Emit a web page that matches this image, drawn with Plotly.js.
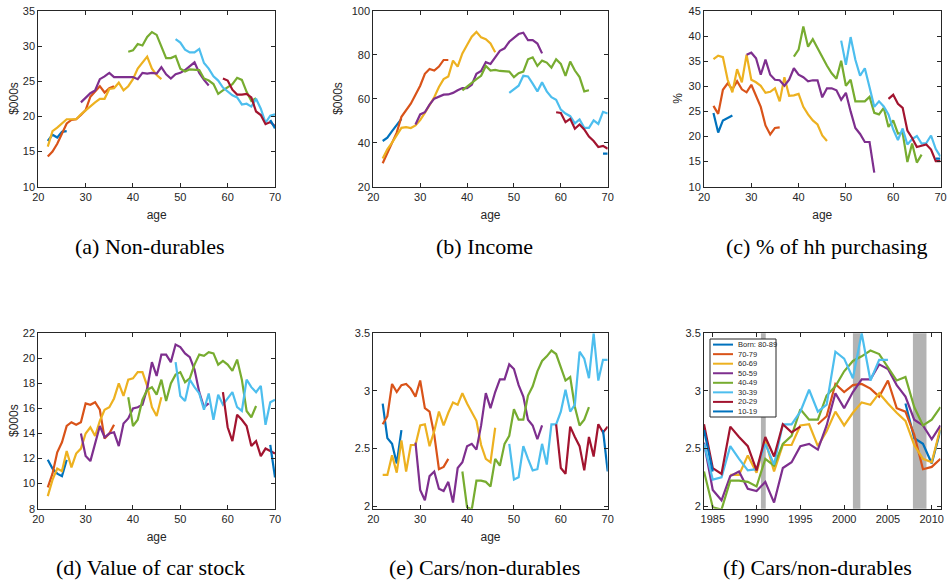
<!DOCTYPE html>
<html>
<head>
<meta charset="utf-8">
<script src="https://cdn.plot.ly/plotly-3.0.1.min.js"></script>
<style>html,body{margin:0;padding:0;background:#fff;}#chart{width:948px;height:582px;}</style>
</head>
<body>
<div id="chart"></div>
<script>
// ---- cohorts ----
const cohortLabels = ['Born: 80-89','70-79','60-69','50-59','40-49','30-39','20-29','10-19'];
const cohortColors = ['#0072BD','#D95319','#EDB120','#7E2F8E','#77AC30','#4DBEEE','#A2142F','#0072BD'];
const birthYear = [1985,1975,1965,1955,1945,1935,1925,1915];   // age = year - birthYear
const firstAge = [22,22,22,29,39,49,59,69];

// ---- (a) Non-durables, $000s, by age ----
const nonDurables = [
  [16.5,17.4,17.0,17.8,17.9],
  [14.3,15.0,16.1,17.6,19.0,19.5,19.6,20.2,20.9,22.8,23.5,24.3,23.4,24.0,24.3],
  [15.7,17.9,18.4,19.0,19.6,19.6,19.6,20.3,20.9,21.5,22.0,22.5,22.5,23.9,24.0,24.8,23.7,24.3,25.3,26.8,27.6,28.5,26.8,25.9,25.3],
  [22.0,22.7,23.3,23.7,25.3,25.7,26.2,25.6,25.6,25.5,25.6,25.6,25.3,26.2,26.1,26.2,26.1,27.0,26.0,25.4,26.0,26.2,26.6,27.2,27.7,26.2,25.2,24.4],
  [29.2,29.4,30.3,30.1,31.3,32.0,31.6,29.9,28.3,28.3,28.6,26.8,26.4,26.7,26.7,26.6,25.4,25.1,24.6,23.2,23.7,24.2,24.6,25.5,25.2,23.5,22.2,22.6],
  [31.0,30.5,29.5,29.1,29.1,29.6,27.6,26.8,25.7,25.1,24.1,23.5,23.0,22.7,21.7,21.8,21.4,22.5,21.1,19.1,20.1,20.3],
  [25.4,25.1,23.8,23.1,23.1,23.2,22.7,20.7,20.2,18.9,19.2,18.6],
  [19.5,18.3]
];
// ---- (b) Income, $000s ----
const income = [
  [40.8,42.3,45.3,47.9,50.9],
  [30.7,35.5,40.1,44.6,51.8,55.1,57.8,61.9,66.0,71.4,73.6,72.9,74.7,77.7,77.7],
  [32.8,37.0,40.1,43.4,46.8,47.1,46.7,47.9,50.3,53.6,56.9,60.7,65.4,69.0,70.2,77.4,74.7,80.7,84.5,88.3,90.5,88.0,87.2,85.2,81.2],
  [48.3,52.9,53.9,57.4,60.1,61.1,61.9,62.0,62.7,63.9,64.9,64.9,66.4,71.4,72.7,76.7,75.9,78.9,81.9,83.0,86.0,87.8,89.5,90.1,86.7,86.7,85.2,80.7],
  [63.9,65.7,67.5,69.0,70.5,75.0,72.9,73.2,72.7,72.4,72.4,69.9,71.7,72.4,78.0,78.9,75.0,77.4,76.5,74.2,78.0,75.9,70.5,77.0,72.9,69.9,63.4,63.9],
  [62.7,64.2,66.0,70.5,70.2,66.9,63.4,67.5,63.4,60.8,59.6,55.1,53.3,52.1,48.8,50.6,46.8,46.8,50.2,48.6,54.1,53.3],
  [53.9,53.6,49.4,50.9,46.4,48.3,46.1,42.8,40.8,38.1,38.6,37.3],
  [35.1,35.1]
];
// ---- (c) % of households purchasing ----
const pctPurchasing = [
  [24.7,20.8,23.2,23.7,24.2],
  [26.1,24.5,29.3,30.6,29.4,31.0,29.4,28.8,30.3,27.9,25.9,22.2,20.4,21.7,21.8],
  [35.4,36.1,35.8,31.3,28.8,33.4,30.8,36.3,31.3,30.8,30.1,28.7,28.9,29.6,27.0,31.8,28.1,28.2,28.5,25.9,24.4,23.2,22.4,20.2,19.1],
  [36.3,36.7,35.6,32.3,35.3,32.3,31.3,31.2,30.1,31.3,33.6,32.3,31.8,31.0,31.2,31.2,27.8,29.6,29.6,29.2,27.3,28.7,25.0,21.7,20.5,18.9,18.9,12.8],
  [35.9,37.3,41.9,37.9,39.4,37.6,35.8,34.1,32.6,31.5,35.1,30.1,31.3,27.0,27.0,27.0,27.9,24.7,24.4,25.7,21.9,23.2,20.6,20.7,14.9,18.6,14.8,16.4],
  [39.1,34.3,39.8,35.3,32.1,33.6,29.8,25.9,27.0,26.0,24.4,21.4,19.3,21.6,18.4,19.5,20.1,18.6,18.7,20.2,17.5,16.0],
  [27.5,28.3,26.5,25.7,21.2,19.7,17.9,18.1,18.4,17.4,15.1,15.1],
  [15.6,15.6]
];
// ---- (d) Value of car stock, $000s ----
const carStock = [
  [11.9,11.2,10.8,10.6,11.9],
  [9.7,10.8,12.5,13.3,14.6,14.9,14.7,14.9,16.4,16.3,16.5,15.9,13.6,14.0,14.7],
  [9.0,10.3,11.2,11.0,12.6,11.3,12.4,12.8,14.0,14.5,13.8,15.0,15.9,16.1,16.8,18.0,17.0,18.3,18.4,18.9,18.9,17.8,16.1,15.4,16.9],
  [14.0,12.2,11.8,13.1,14.6,13.7,14.0,14.1,13.0,14.8,15.2,16.0,16.1,16.3,17.6,19.7,18.6,20.3,20.3,19.7,21.1,20.9,20.4,20.1,19.1,17.3,16.1,16.4],
  [16.9,14.6,15.1,16.7,17.5,17.7,17.1,18.3,16.6,18.0,18.7,18.9,18.1,18.4,19.5,20.3,20.2,20.5,20.4,19.5,19.8,19.5,19.0,19.9,18.3,15.8,15.3,16.2],
  [19.7,17.0,16.6,18.3,17.7,17.2,15.9,17.2,15.1,17.1,16.3,16.8,17.3,16.1,15.8,18.3,17.7,17.3,17.8,14.7,16.5,16.7],
  [17.3,14.5,13.4,15.5,15.1,14.6,13.0,13.4,12.2,12.8,12.6,12.4],
  [13.1,10.5]
];
// ---- (e)/(f) Cars / non-durables ----
const carsRatio = [
  [2.89,2.59,2.54,2.37,2.66],
  [2.71,2.78,3.06,2.99,3.05,3.06,3.02,2.95,3.09,2.85,2.82,2.62,2.32,2.34,2.41],
  [2.27,2.27,2.44,2.29,2.57,2.30,2.53,2.53,2.70,2.71,2.52,2.65,2.82,2.70,2.81,2.90,2.88,2.98,2.89,2.81,2.74,2.53,2.41,2.38,2.68],
  [2.55,2.14,2.05,2.26,2.30,2.15,2.13,2.21,2.03,2.33,2.38,2.52,2.54,2.49,2.70,2.98,2.85,2.99,3.10,3.10,3.23,3.19,3.05,2.95,2.75,2.70,2.58,2.70],
  [2.30,1.99,1.97,2.22,2.22,2.21,2.17,2.41,2.35,2.54,2.61,2.84,2.75,2.75,2.96,3.04,3.17,3.26,3.30,3.35,3.32,3.20,3.09,3.12,2.86,2.70,2.75,2.86],
  [2.54,2.23,2.25,2.52,2.41,2.31,2.32,2.54,2.36,2.71,2.71,2.82,3.01,2.82,2.88,3.34,3.28,3.11,3.50,3.09,3.27,3.27],
  [2.71,2.33,2.28,2.69,2.60,2.52,2.31,2.60,2.43,2.71,2.64,2.69],
  [2.66,2.30]
];
// recession periods (years)
const recessions = [[1990.5,1991.05],[2001.0,2001.85],[2007.85,2009.4]];

const captions = ['(a) Non-durables','(b) Income','(c) % of hh purchasing','(d) Value of car stock','(e) Cars/non-durables','(f) Cars/non-durables'];
const yTitles = ['$000s','$000s','%','$000s','',''];

// ---- layout helpers (pixels -> paper) ----
const W = 948, H = 582;
const px = v => v / W, py = v => 1 - v / H;
const panels = [
  {x:[38.3,275],  y:[11,186.7],   yr:[10,35],  dt:5,   cap:[150,246], yt:14},
  {x:[373.3,607.7],y:[11,186.7],  yr:[20,100], dt:20,  cap:[484,246], yt:338},
  {x:[704,940.5], y:[11,186.7],   yr:[10,45],  dt:5,   cap:[827,246], yt:678},
  {x:[38.3,275],  y:[333.3,508.7],yr:[8,22],   dt:2,   cap:[150,567], yt:14},
  {x:[373.3,607.7],y:[333.3,508.7],yr:[1.977,3.5], dt:0.5, cap:[484,567], yt:0},
  {x:[704,940.5], y:[333.3,508.7],yr:[1.977,3.5], dt:0.5, cap:[817,567], yt:0}
];
const datasets = [nonDurables, income, pctPurchasing, carStock, carsRatio, carsRatio];

const traces = [];
datasets.forEach((ds, p) => {
  const ax = p === 0 ? '' : String(p + 1);
  ds.forEach((vals, c) => {
    const ages = vals.map((_, j) => firstAge[c] + j);
    const xs = p === 5 ? ages.map(a => a + birthYear[c]) : ages;
    traces.push({
      x: xs, y: vals, type: 'scatter', mode: 'lines',
      xaxis: 'x' + ax, yaxis: 'y' + ax,
      line: {color: cohortColors[c], width: 2.2},
      name: cohortLabels[c], showlegend: false, hoverinfo: 'skip'
    });
  });
});

const tickFont = {family: 'Liberation Sans, Arial, sans-serif', size: 11, color: '#262626'};
const titleFont = {family: 'Liberation Sans, Arial, sans-serif', size: 12, color: '#262626'};
const baseAxis = {
  showline: true, linecolor: '#262626', linewidth: 1, mirror: 'ticks',
  ticks: 'inside', ticklen: 4, tickwidth: 1, tickcolor: '#262626',
  showgrid: false, zeroline: false, automargin: false, tickfont: tickFont, fixedrange: true
};

const layout = {
  width: W, height: H, margin: {l:0, r:0, t:0, b:0},
  paper_bgcolor: '#fff', plot_bgcolor: '#fff', showlegend: false,
  shapes: [], annotations: []
};

panels.forEach((P, p) => {
  const ax = p === 0 ? '' : String(p + 1);
  const xa = Object.assign({}, baseAxis, {
    domain: [px(P.x[0]), px(P.x[1])], anchor: 'y' + ax,
    range: p === 5 ? [1984, 2011] : [20, 70],
    tickmode: 'linear', tick0: p === 5 ? 1985 : 20, dtick: p === 5 ? 5 : 10,
    title: p === 5 ? {text: ''} : {text: 'age', font: titleFont, standoff: 8}
  });
  const ya = Object.assign({}, baseAxis, {
    domain: [py(P.y[1]), py(P.y[0])], anchor: 'x' + ax,
    range: P.yr, tickmode: 'linear', tick0: p >= 4 ? 2 : P.yr[0], dtick: P.dt
  });
  layout['xaxis' + ax] = xa;
  layout['yaxis' + ax] = ya;
  if (yTitles[p]) {
    layout.annotations.push({
      xref: 'paper', yref: 'paper', x: px(P.yt), y: py((P.y[0] + P.y[1]) / 2),
      xanchor: 'center', yanchor: 'middle', textangle: -90, showarrow: false,
      text: yTitles[p], font: titleFont
    });
  }
  layout.annotations.push({
    xref: 'paper', yref: 'paper', x: px(P.cap[0]), y: py(P.cap[1]),
    xanchor: 'center', yanchor: 'middle', showarrow: false, text: captions[p],
    font: {family: 'Liberation Serif, Times New Roman, serif', size: 22, color: '#000'}
  });
});

// recession bars in panel (f)
recessions.forEach(r => {
  layout.shapes.push({type: 'rect', xref: 'x6', yref: 'y6 domain', x0: r[0], x1: r[1], y0: 0, y1: 1,
    fillcolor: '#b3b3b3', line: {width: 0}, layer: 'below'});
});

// compact legend in panel (f)
const lg = {x0: 710, x1: 776, y0: 339, y1: 417, lineX0: 713, lineX1: 733, textX: 735.5, row0: 344.6, step: 9.55};
layout.shapes.push({type: 'rect', xref: 'paper', yref: 'paper', x0: px(lg.x0), x1: px(lg.x1), y0: py(lg.y1), y1: py(lg.y0),
  fillcolor: '#fff', line: {color: '#262626', width: 1}, layer: 'above'});
cohortLabels.forEach((lab, c) => {
  const yy = py(lg.row0 + c * lg.step);
  layout.shapes.push({type: 'line', xref: 'paper', yref: 'paper', x0: px(lg.lineX0), x1: px(lg.lineX1), y0: yy, y1: yy,
    line: {color: cohortColors[c], width: 2}, layer: 'above'});
  layout.annotations.push({xref: 'paper', yref: 'paper', x: px(lg.textX), y: yy, xanchor: 'left', yanchor: 'middle',
    showarrow: false, text: lab, font: {family: 'Liberation Sans, Arial, sans-serif', size: 7.5, color: '#262626'}});
});

Plotly.newPlot('chart', traces, layout, {staticPlot: true, displayModeBar: false});
</script>
</body>
</html>
